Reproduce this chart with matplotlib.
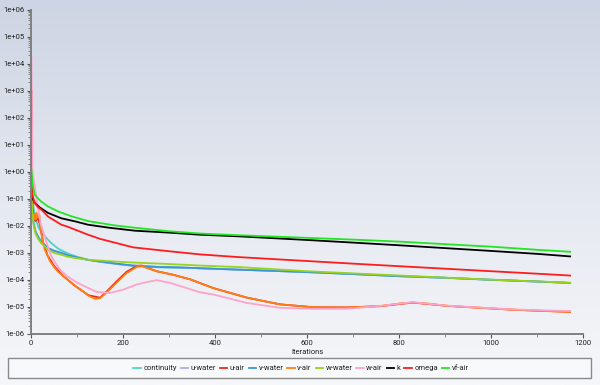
import numpy as np
import matplotlib
matplotlib.use("Agg")
import matplotlib.pyplot as plt
from matplotlib.colors import LinearSegmentedColormap
from matplotlib.patches import Rectangle
from matplotlib.lines import Line2D
import matplotlib.ticker as mticker

plt.rcParams['font.family'] = ['Roboto', 'DejaVu Sans']

# ---------------- data ----------------
series_names = ["continuity", "u-water", "u-air", "v-water", "v-air",
                "w-water", "w-air", "k", "omega", "vf-air"]
series_colors = ["#4fd2c6", "#b6a9e2", "#e8281e", "#3a96dc", "#ff7f12",
                 "#98d41c", "#ffa3c9", "#000000", "#ff1c1c", "#22e622"]

continuity_it = [1, 3, 6, 10, 16, 22, 30, 44, 60, 80, 100, 124, 150, 190, 222, 280, 367, 450, 600, 700, 802, 900, 1000, 1100, 1172]
continuity_val = [0.5, 0.12, 0.04, 0.018, 0.009, 0.006, 0.0041, 0.0023, 0.0014, 0.00095, 0.00072, 0.00056, 0.00047,
                  0.00038, 0.00033, 0.00029, 0.00027, 0.00024, 0.000195, 0.000165, 0.00014, 0.00012, 0.000102, 0.000088, 0.000078]

vwater_it = [1, 3, 6, 10, 16, 22, 37, 50, 66, 80, 100, 124, 150, 190, 222, 280, 324, 367, 450, 600, 700, 802, 900, 1000, 1100, 1172]
vwater_val = [0.06, 0.03, 0.012, 0.006, 0.0038, 0.0027, 0.0015, 0.0012, 0.001, 0.00082, 0.00068, 0.00055, 0.00048,
              0.00039, 0.00034, 0.0003, 0.00029, 0.00027, 0.00024, 0.000195, 0.000165, 0.000137, 0.00012, 0.000101, 0.000087, 0.000077]

uwater_it = [1, 3, 6, 10, 16, 22, 37, 50, 66, 80, 100, 124, 150, 190, 222, 280, 324, 367, 450, 600, 700, 802, 900, 1000, 1100, 1172]
uwater_val = [0.055, 0.028, 0.011, 0.006, 0.0037, 0.0026, 0.0015, 0.0012, 0.00099, 0.00081, 0.00067, 0.00055, 0.00047,
              0.00039, 0.00034, 0.0003, 0.00029, 0.00027, 0.00024, 0.000194, 0.000164, 0.000136, 0.00012, 0.0001, 0.000087, 0.000077]

wwater_it = [1, 3, 6, 10, 16, 22, 37, 50, 66, 80, 100, 124, 150, 190, 222, 280, 324, 367, 450, 600, 700, 802, 900, 1000, 1100, 1172]
wwater_val = [0.12, 0.03, 0.01, 0.005, 0.0032, 0.0023, 0.0013, 0.001, 0.00085, 0.00072, 0.00063, 0.00056, 0.00052,
              0.00047, 0.00044, 0.0004, 0.00037, 0.00034, 0.0003, 0.00021, 0.000175, 0.000145, 0.000122, 0.000102, 0.000088, 0.000078]

vair_it = [1, 3, 4, 6, 8, 10, 12, 15, 18, 20, 22, 26, 30, 36, 41, 50, 59, 70, 80, 96, 113, 125, 139, 150, 165, 186,
           208, 230, 241, 251, 273, 309, 346, 396, 470, 541, 613, 687, 759, 802, 830, 860, 904, 976, 1048, 1110, 1172]
vair_val = [0.15, 0.03, 0.025, 0.018, 0.028, 0.017, 0.03, 0.02, 0.026, 0.012, 0.0063, 0.0025, 0.0013, 0.0008, 0.0005,
            0.0003, 0.0002, 0.00014, 0.0001, 0.00006, 0.000038, 0.000026, 0.00002, 0.000021, 0.000035, 0.000078,
            0.00018, 0.0003, 0.00032, 0.00028, 0.00021, 0.000155, 0.000105, 0.00005, 0.000022, 0.0000125, 0.0000098,
            0.0000096, 0.0000107, 0.0000135, 0.0000145, 0.0000135, 0.000011, 0.0000093, 0.0000079, 0.0000071, 0.0000066]

uair_it = [1, 3, 6, 10, 15, 20, 26, 36, 50, 70, 96, 125, 150, 165, 186, 208, 230, 241, 251, 273, 309, 346, 396,
           470, 541, 613, 687, 759, 830, 904, 976, 1048, 1172]
uair_val = [1000, 0.05, 0.02, 0.015, 0.02, 0.01, 0.0025, 0.0008, 0.00033, 0.00014, 0.00006, 0.000027, 0.000022,
            0.000038, 0.000088, 0.0002, 0.00033, 0.00034, 0.00029, 0.00021, 0.000155, 0.000105, 0.00005, 0.000022,
            0.0000125, 0.0000098, 0.0000096, 0.0000107, 0.0000145, 0.000011, 0.0000093, 0.0000079, 0.0000066]

wair_it = [1, 3, 11, 15, 21, 30, 41, 50, 63, 78, 100, 113, 143, 172, 201, 230, 251, 273, 302, 338, 367, 396, 470,
           541, 613, 687, 759, 830, 904, 976, 1048, 1110, 1172]
wair_val = [18000, 1.0, 0.14, 0.047, 0.012, 0.004, 0.001, 0.0005, 0.00024, 0.00014, 0.00008, 0.000062, 0.000036,
            0.000033, 0.000044, 0.000068, 0.000082, 0.000098, 0.000078, 0.00005, 0.000035, 0.000029, 0.000014,
            0.0000093, 0.0000085, 0.0000085, 0.000011, 0.000015, 0.0000112, 0.0000095, 0.0000081, 0.0000075, 0.0000071]

k_it = [1, 4, 8, 19, 37, 66, 96, 124, 170, 226, 300, 367, 450, 600, 700, 802, 900, 1000, 1100, 1172]
k_val = [0.15, 0.1, 0.07, 0.048, 0.030, 0.019, 0.0146, 0.011, 0.0085, 0.0066, 0.0056, 0.0047, 0.0041, 0.0030,
         0.0024, 0.0019, 0.0015, 0.00118, 0.00092, 0.00074]

omega_it = [1, 4, 8, 15, 26, 37, 66, 78, 124, 150, 222, 300, 367, 450, 600, 700, 802, 900, 1000, 1100, 1172]
omega_val = [0.2, 0.12, 0.07, 0.05, 0.035, 0.022, 0.011, 0.0095, 0.0047, 0.0033, 0.0016, 0.00115, 0.00088, 0.0007,
             0.0005, 0.0004, 0.00032, 0.00026, 0.00021, 0.00017, 0.000145]

vfair_it = [1, 2, 4, 8, 22, 37, 59, 90, 124, 180, 226, 300, 367, 450, 600, 700, 802, 900, 1000, 1100, 1172]
vfair_val = [1.2, 0.6, 0.3, 0.14, 0.079, 0.052, 0.034, 0.022, 0.015, 0.0105, 0.0085, 0.0063, 0.0052, 0.0045,
             0.0036, 0.0031, 0.0026, 0.0021, 0.0017, 0.0013, 0.0011]

series_data = [(continuity_it, continuity_val), (uwater_it, uwater_val), (uair_it, uair_val),
               (vwater_it, vwater_val), (vair_it, vair_val), (wwater_it, wwater_val),
               (wair_it, wair_val), (k_it, k_val), (omega_it, omega_val), (vfair_it, vfair_val)]

x_ticks = [0, 200, 400, 600, 800, 1000, 1200]
y_ticks = [1e-6, 1e-5, 1e-4, 1e-3, 1e-2, 1e-1, 1e0, 1e1, 1e2, 1e3, 1e4, 1e5, 1e6]

# ---------------- figure ----------------
W, H = 600, 385
fig = plt.figure(figsize=(W / 100, H / 100), dpi=100)

# background gradient
bg = fig.add_axes([0, 0, 1, 1], zorder=-10)
cmap = LinearSegmentedColormap.from_list("bg", ["#cdd4e3", "#e4e8f0", "#f6f7fa"])
grad = np.linspace(0, 1, 256).reshape(-1, 1)
bg.imshow(grad, aspect="auto", cmap=cmap, extent=[0, 1, 0, 1], origin="upper")
bg.axis("off")

ax = fig.add_axes([31 / W, 1 - 334 / H, (583 - 31) / W, (334 - 9.5) / H])
ax.set_facecolor("none")

handles = []
for name, col, (its, vals) in zip(series_names, series_colors, series_data):
    ax.plot(its, vals, color=col, lw=1.3, solid_joinstyle="round")
    handles.append(Line2D([], [], color=col, lw=1.3))

ax.set_yscale("log")
ax.set_xlim(0, 1200)
ax.set_ylim(1e-6, 1e6)
ax.set_xticks(x_ticks)
ax.set_xticks([100, 300, 500, 700, 900, 1100], minor=True)
ax.set_yticks(y_ticks)
ax.yaxis.set_major_formatter(mticker.FuncFormatter(lambda v, p: f"{v:.0e}"))
ax.yaxis.set_minor_locator(mticker.LogLocator(base=10, subs=np.arange(2, 10) * 1.0, numticks=50))
ax.yaxis.set_minor_formatter(mticker.NullFormatter())

for s in ["top", "right"]:
    ax.spines[s].set_visible(False)
for s in ["left", "bottom"]:
    ax.spines[s].set_color("#808080")
    ax.spines[s].set_linewidth(1.4)

ax.tick_params(axis="both", which="major", labelsize=5.5, colors="#555555", labelcolor="#222222",
               length=3, width=0.8, pad=1.5)
ax.tick_params(axis="both", which="minor", colors="#777777", length=2, width=0.6)
ax.set_xlabel("Iterations", fontsize=5.5, color="#222222", labelpad=2)

# legend box
fig.add_artist(Rectangle((8 / W, 1 - 378 / H), 583 / W, 20 / H, transform=fig.transFigure,
                         facecolor="#f8f9fb", edgecolor="#8a8a8a", lw=1.0, zorder=1))
leg = fig.legend(handles, series_names, loc="center", bbox_to_anchor=(301 / W, 1 - 368 / H),
                 ncol=10, frameon=False, fontsize=5.5, handlelength=1.0, handletextpad=0.3,
                 columnspacing=0.5, borderaxespad=0)
leg.set_zorder(2)
for t in leg.get_texts():
    t.set_color("#222222")

fig.savefig("out.png", dpi=100)
